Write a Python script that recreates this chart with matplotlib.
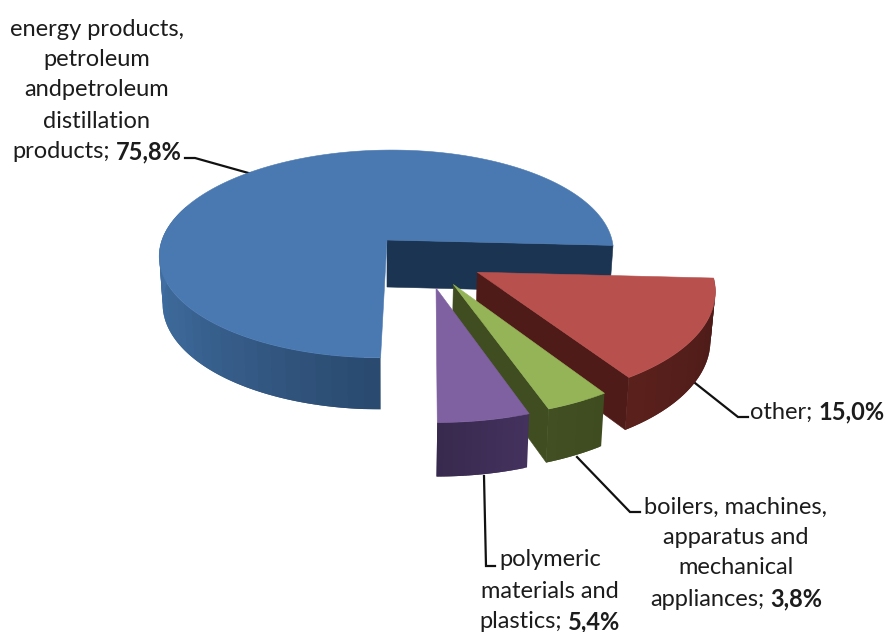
import numpy as np
import matplotlib
matplotlib.use("Agg")
import matplotlib.pyplot as plt
from matplotlib.colors import LinearSegmentedColormap
from matplotlib.patches import Polygon

# ---- data ----
categories = ["other", "boilers, machines,\napparatus and\nmechanical\nappliances",
              "polymeric\nmaterials and\nplastics",
              "energy products,\npetroleum\nandpetroleum\ndistillation\nproducts"]
values = [15.0, 3.8, 5.4, 75.8]
value_labels = ["15,0%", "3,8%", "5,4%", "75,8%"]

# ---- style / layout ----
top_colors = ["#B8504D", "#94B457", "#7F60A0", "#4A79B1"]
rim_colors = [["#4A1A17", "#5A201C"], ["#3E4C20", "#414F22"],
              ["#44325E", "#38294E"], ["#2A4A70", "#3B6594", "#4375AD"]]
wall_colors = ["#4F1B18", "#3F4D20", None, "#1B3451"]
offsets = [(0.392, 0.303), (0.288, 0.412), (0.215, 0.443), (0.0, 0.0)]
start_angle = 3.0
CX, CY, RX, RY, K, SHEAR, DEPTH, SHRINK = 387, 240, 225, 102, 0.134, 0.05, 47, 0.985

fig = plt.figure(figsize=(8.85, 6.32), dpi=100)
ax = fig.add_axes([0, 0, 1, 1])
ax.set_xlim(0, 885)
ax.set_ylim(632, 0)
ax.axis("off")


def project(u, v, lower=False):
    s = 1 / (1 - K * v)
    y = RY * v * s
    x = RX * u * s - SHEAR * y
    if lower:
        return CX + x * SHRINK, CY + y + DEPTH * s ** 0.65
    return CX + x, CY + y


def rim_point(off, deg, lower=False):
    t = np.radians(deg)
    return project(off[0] + np.cos(t), off[1] + np.sin(t), lower)


def draw_slice(idx, a0, a1, z):
    off = offsets[idx]
    apex_top = project(*off)
    apex_low = project(*off, lower=True)
    cmap = LinearSegmentedColormap.from_list("rim", rim_colors[idx])
    # inner wall
    if wall_colors[idx]:
        quad = [apex_top, rim_point(off, a1), rim_point(off, a1, True), apex_low]
        ax.add_patch(Polygon(quad, closed=True, fc=wall_colors[idx], ec=wall_colors[idx], lw=0.4, zorder=z))
    # outer rim, in overlapping strips for the shading
    strip_to = 200 if idx == 3 else a1
    edges = np.linspace(a0, strip_to, 31)
    for i in range(len(edges) - 1):
        c = cmap(i / (len(edges) - 2))
        e0, e1 = edges[i], edges[min(i + 2, len(edges) - 1)]
        arc = np.linspace(e0, e1, 6)
        pts = [rim_point(off, t) for t in arc] + [rim_point(off, t, True) for t in arc[::-1]]
        ax.add_patch(Polygon(pts, closed=True, fc=c, ec="none", lw=0, zorder=z + 0.1 + i * 0.001))
    # top face
    ts = np.linspace(a0, a1, 200)
    pts = [apex_top] + [rim_point(off, t) for t in ts]
    ax.add_patch(Polygon(pts, closed=True, fc=top_colors[idx], ec=top_colors[idx], lw=0.4, zorder=z + 0.2))


spans = np.array(values) / sum(values) * 360
angles = start_angle + np.concatenate([[0], np.cumsum(spans)])
# blue first (back), then red, green, purple towards the viewer
draw_slice(3, angles[3], angles[4], 1)
draw_slice(0, angles[0], angles[1], 2)
draw_slice(1, angles[1], angles[2], 3)
draw_slice(2, angles[2], angles[3], 4)

# ---- labels ----
FONT = "Lato"
FS = 17.0
TXT = "#1c1c1c"
fig.canvas.draw()
rend = fig.canvas.get_renderer()


def centered_line(xc, yc, regular, bold=None):
    t1 = ax.text(0, yc, regular, family=FONT, fontsize=FS, color=TXT, va="center_baseline", ha="left")
    w1 = t1.get_window_extent(rend).width
    if bold is None:
        t1.set_x(xc - w1 / 2)
        return
    t2 = ax.text(0, yc, bold, family=FONT, fontsize=FS, fontweight="bold", color=TXT,
                 va="center_baseline", ha="left")
    w2 = t2.get_window_extent(rend).width
    gap = 6
    x0 = xc - (w1 + gap + w2) / 2
    t1.set_x(x0)
    t2.set_x(x0 + w1 + gap)


def block(idx, xc, ys):
    lines = categories[idx].split("\n")
    for i, (ln, y) in enumerate(zip(lines, ys)):
        if i == len(lines) - 1:
            centered_line(xc, y, ln + ";", value_labels[idx])
        else:
            centered_line(xc, y, ln)


block(3, 97, [27, 58, 88, 119, 150])
block(0, 817, [410])
block(1, 736, [505, 535, 566, 597])
block(2, 550, [558, 589, 620])

leaders = [
    [(185, 158), (195, 158), (252, 174)],
    [(695, 383), (738, 417), (748, 417)],
    [(577, 457), (630, 512), (640, 512)],
    [(484, 476), (486, 566), (495, 566)],
]
for pts in leaders:
    xs, ys = zip(*pts)
    ax.plot(xs, ys, color="#111111", lw=1.6, solid_joinstyle="miter", zorder=0.5)

fig.savefig("out.png", dpi=100)
